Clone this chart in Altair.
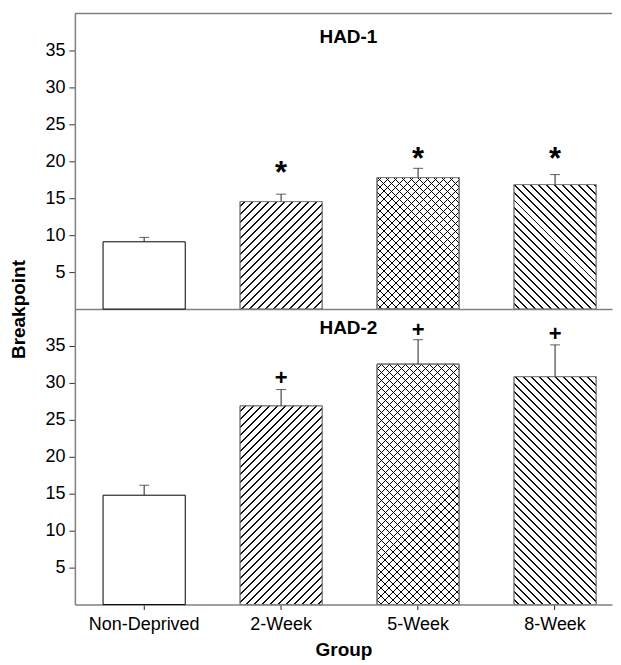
import altair as alt
import pandas as pd

# ---------------- data ----------------
groups = ["Non-Deprived", "2-Week", "5-Week", "8-Week"]

had1_mean = [9.1, 14.55, 17.8, 16.85]
had1_sem = [0.6, 1.0, 1.25, 1.35]
had1_sig = ["", "*", "*", "*"]
had1_sig_y = [None, 19.4, 21.25, 21.25]

had2_mean = [14.8, 26.9, 32.55, 30.85]
had2_sem = [1.35, 2.2, 3.3, 4.3]
had2_sig = ["", "+", "+", "+"]
had2_sig_y = [None, 30.7, 37.15, 36.6]

y_ticks = [5, 10, 15, 20, 25, 30, 35]
hatch = {"2-Week": ["/"], "5-Week": ["/", "\\"], "8-Week": ["\\"]}

# ---------------- style ----------------
W, H, YMAX = 538, 296, 40
FONT = "Liberation Sans, Arial, sans-serif"
GRAY = "#808080"
BAND_PAD_IN, BAND_PAD_OUT, BAND_ALIGN = 0.4, 0.1607, 0.64


def stripe_gradient(w, h, direction, period=8.0, lw=2.0, color="#111111"):
    """Linear gradient (bbox units) that draws 45-degree stripes on a w x h rect.
    period and lw are measured horizontally in pixels (integers keep stripes uniform)."""
    L = w + h
    k = L / (w * w + h * h)
    if direction == "/":
        x1, y1, x2, y2 = 0.0, 0.0, k * w, k * h
    else:
        x1, y1, x2, y2 = 0.0, 1.0, k * w, 1.0 - k * h
    clear = "rgba(255,255,255,0)"
    stops = [alt.GradientStop(offset=0, color=clear)]
    c = period / 2 + 0.25
    while c < L:
        a = c / L
        b = min(L, c + lw) / L
        stops += [
            alt.GradientStop(offset=round(a, 8), color=clear),
            alt.GradientStop(offset=round(a, 8), color=color),
            alt.GradientStop(offset=round(b, 8), color=color),
            alt.GradientStop(offset=round(b, 8), color=clear),
        ]
        c += period
    stops.append(alt.GradientStop(offset=1, color=clear))
    return alt.LinearGradient(gradient="linear", stops=stops,
                              x1=x1, y1=y1, x2=round(x2, 8), y2=round(y2, 8))


def panel(name, mean, sem, sig, sig_y, bottom, label_y):
    df = pd.DataFrame({
        "group": groups,
        "mean": mean,
        "upper": [m + s for m, s in zip(mean, sem)],
        "sig": sig,
        "sig_y": sig_y,
    })
    xscale = alt.Scale(domain=groups, paddingInner=BAND_PAD_IN,
                       paddingOuter=BAND_PAD_OUT, align=BAND_ALIGN)
    yscale = alt.Scale(domain=[0, YMAX], nice=False, zero=True)
    if bottom:
        xaxis = alt.Axis(title="Group", labelAngle=0, tickSize=5, ticks=True,
                         labelPadding=6, titlePadding=7, tickColor="#222222")
        yaxis = alt.Axis(values=y_ticks, title=None, tickSize=6, labelPadding=4)
    else:
        xaxis = alt.Axis(title=None, labels=False, ticks=False)
        yaxis = alt.Axis(values=y_ticks, title="Breakpoint", tickSize=6, labelPadding=4,
                         titleX=-46, titleY=H, titleAngle=270, titleBaseline="bottom",
                         titleAlign="center")
    x = alt.X("group:N", scale=xscale, axis=xaxis, sort=groups)

    def y(field):
        return alt.Y(field, scale=yscale, axis=yaxis)

    base = alt.Chart(df)
    layers = [
        base.mark_bar(fill="white", strokeWidth=1).encode(
            x=x, y=y("mean:Q"),
            stroke=alt.condition("datum.group == 'Non-Deprived'", alt.value("black"), alt.value(GRAY)),
        )
    ]
    step = W / (len(groups) - BAND_PAD_IN + 2 * BAND_PAD_OUT)
    bw = step * (1 - BAND_PAD_IN)
    for g, dirs in hatch.items():
        h = mean[groups.index(g)] * H / YMAX
        cross = len(dirs) > 1
        for d in dirs:
            grad = stripe_gradient(bw, h, d, lw=1.0 if cross else 2.0,
                                   color="#000000" if cross else "#111111")
            layers.append(
                base.transform_filter(alt.datum.group == g)
                .mark_bar(fill=grad, stroke=GRAY, strokeWidth=1)
                .encode(x=x, y=y("mean:Q"))
            )
    layers.append(base.mark_rule(color="#222222", strokeWidth=1).encode(
        x=x, y=y("mean:Q"), y2="upper:Q"))
    layers.append(base.mark_tick(color="#222222", size=10, thickness=1).encode(
        x=x, y=y("upper:Q")))
    if bottom:
        layers.append(base.mark_text(font=FONT, fontSize=22, fontWeight="bold",
                                     baseline="alphabetic", dy=7, color="black").encode(
            x=x, y=y("sig_y:Q"), text="sig:N"))
    else:
        layers.append(base.mark_text(font=FONT, fontSize=31, fontWeight="bold",
                                     baseline="alphabetic", dy=17, color="black").encode(
            x=x, y=y("sig_y:Q"), text="sig:N"))
    lab = alt.Chart(pd.DataFrame({"label": [name]}))
    layers.append(lab.mark_text(font=FONT, fontSize=19, fontWeight="bold",
                                baseline="alphabetic", color="black").encode(
        x=alt.value(274), y=alt.value(label_y), text="label:N"))
    if not bottom:
        layers.append(lab.mark_rule(color=GRAY, strokeWidth=1.5).encode(
            x=alt.value(0), x2=alt.value(W), y=alt.value(0)))
    return alt.layer(*layers).properties(width=W, height=H)


top = panel("HAD-1", had1_mean, had1_sem, had1_sig, had1_sig_y, False, 29.5)
bot = panel("HAD-2", had2_mean, had2_sem, had2_sig, had2_sig_y, True, 25)

chart = (
    alt.vconcat(top, bot, spacing=0, bounds="flush")
    .properties(padding={"left": 2, "top": 4, "right": 0, "bottom": 0})
    .configure_view(stroke=None)
    .configure_axis(
        grid=False, domainColor=GRAY, domainWidth=1.5, tickColor="#333333",
        labelColor="black", labelFont=FONT, labelFontSize=18,
        titleColor="black", titleFont=FONT, titleFontSize=19, titleFontWeight="bold",
    )
    .configure_text(font=FONT)
)

chart.save("out.html", embed_options={"renderer": "svg", "actions": False})
